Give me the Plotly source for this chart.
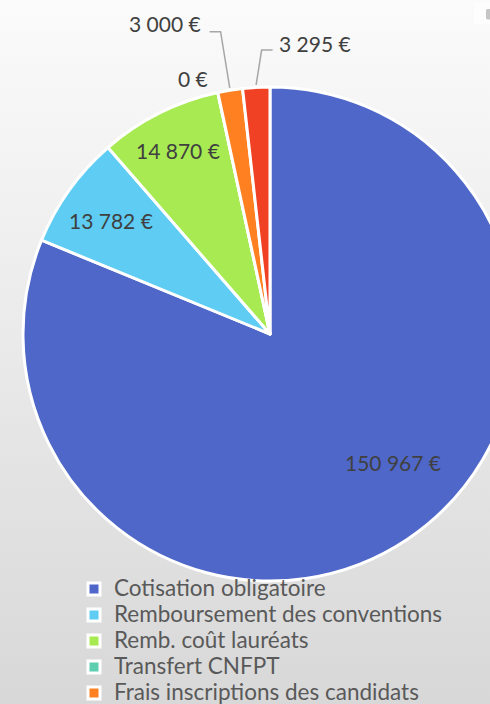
import math
import plotly.graph_objects as go

labels = ["Cotisation obligatoire", "Remboursement des conventions", "Remb. coût lauréats",
          "Transfert CNFPT", "Frais inscriptions des candidats", "Autres recettes"]
values = [150967, 13782, 14870, 0, 3000, 3295]
colors = ["#4E67C8", "#5ECCF3", "#A7EA52", "#5DCEAF", "#FF8021", "#F14124"]

# label placement style per slice:
# (radius factor, angle offset deg, leader elbow factor, side, xshift, yshift)
label_style = [
    (0.72, -10, None, None, 0, 0),
    (0.79, 0, None, None, 0, 0),
    (0.83, 0, None, None, 0, 0),
    (1.08, 0, None, "left", -4, -5),
    (None, 0, 1.24, "left", -7, 8),
    (None, 1.5, 1.15, "right", 4, 7),
]

W, H = 540, 760          # page is larger than the 490x704 window: right and bottom get cropped
CX, CY, R = 270, 334, 247  # pie centre / radius in px

LABEL_FONT = dict(family="Lato", size=21, color="#404040")
LEGEND_TEXT_PX = 22.5


def fmt(v):
    return f"{v:,.0f}".replace(",", " ") + " €"


legend_labels = [f'<span style="font-size:{LEGEND_TEXT_PX}px">{l}</span>' for l in labels]

fig = go.Figure()

# gradient background
fig.add_trace(go.Scatter(
    x=[0, W, W, 0, 0], y=[0, 0, H, H, 0], mode="lines", fill="toself",
    line=dict(width=0), hoverinfo="skip", showlegend=False,
    fillgradient=dict(type="vertical", colorscale=[[0, "#d5d5d5"], [1, "#fbfbfb"]]),
))

fig.add_trace(go.Pie(
    labels=legend_labels, values=values, sort=False, direction="clockwise", rotation=0,
    marker=dict(colors=colors, line=dict(color="white", width=3)),
    textinfo="none",
    domain=dict(x=[(CX - R) / W, (CX + R) / W], y=[1 - (CY + R) / H, 1 - (CY - R) / H]),
    hoverinfo="label+value", showlegend=True,
))

total = sum(values)
cum = 0.0
annotations = []
for v, (rf, off, elbow, side, xs, ys) in zip(values, label_style):
    a0 = cum / total * 360
    cum += v
    a1 = cum / total * 360
    mid = math.radians((a0 + a1) / 2 + off)
    sx, sy = math.sin(mid), -math.cos(mid)
    if elbow is None:
        annotations.append(dict(x=CX + rf * R * sx, y=CY + rf * R * sy, text=fmt(v),
                                showarrow=False,
                                xanchor="center" if side is None else "right", yanchor="middle",
                                xshift=xs, yshift=ys, font=LABEL_FONT))
    else:
        m0 = math.radians((a0 + a1) / 2)
        p0 = (CX + 1.01 * R * math.sin(m0), CY - 1.01 * R * math.cos(m0))
        p1 = (CX + elbow * R * sx, CY + elbow * R * sy)
        dx = -11 if side == "left" else 11
        p2 = (p1[0] + dx, p1[1])
        fig.add_trace(go.Scatter(x=[p0[0], p1[0], p2[0]], y=[p0[1], p1[1], p2[1]], mode="lines",
                                 line=dict(color="#A6A6A6", width=1.5), hoverinfo="skip",
                                 showlegend=False))
        annotations.append(dict(x=p2[0], y=p2[1], text=fmt(v), showarrow=False,
                                xanchor="right" if side == "left" else "left", yanchor="middle",
                                xshift=xs, yshift=ys, font=LABEL_FONT))

fig.update_layout(
    width=W, height=H, margin=dict(l=0, r=0, t=0, b=0),
    paper_bgcolor="white", plot_bgcolor="rgba(0,0,0,0)",
    xaxis=dict(range=[0, W], visible=False, domain=[0, 1], fixedrange=True),
    yaxis=dict(range=[H, 0], visible=False, domain=[0, 1], fixedrange=True),
    annotations=annotations,
    legend=dict(x=74 / W, y=1 - 571 / H, xanchor="left", yanchor="top",
                bgcolor="rgba(0,0,0,0)", font=dict(family="Lato", size=17.7, color="#595959"),
                tracegroupgap=0),
)

fig.write_html("out.html", post_script="document.body.style.margin='0';document.body.style.overflow='hidden';")
